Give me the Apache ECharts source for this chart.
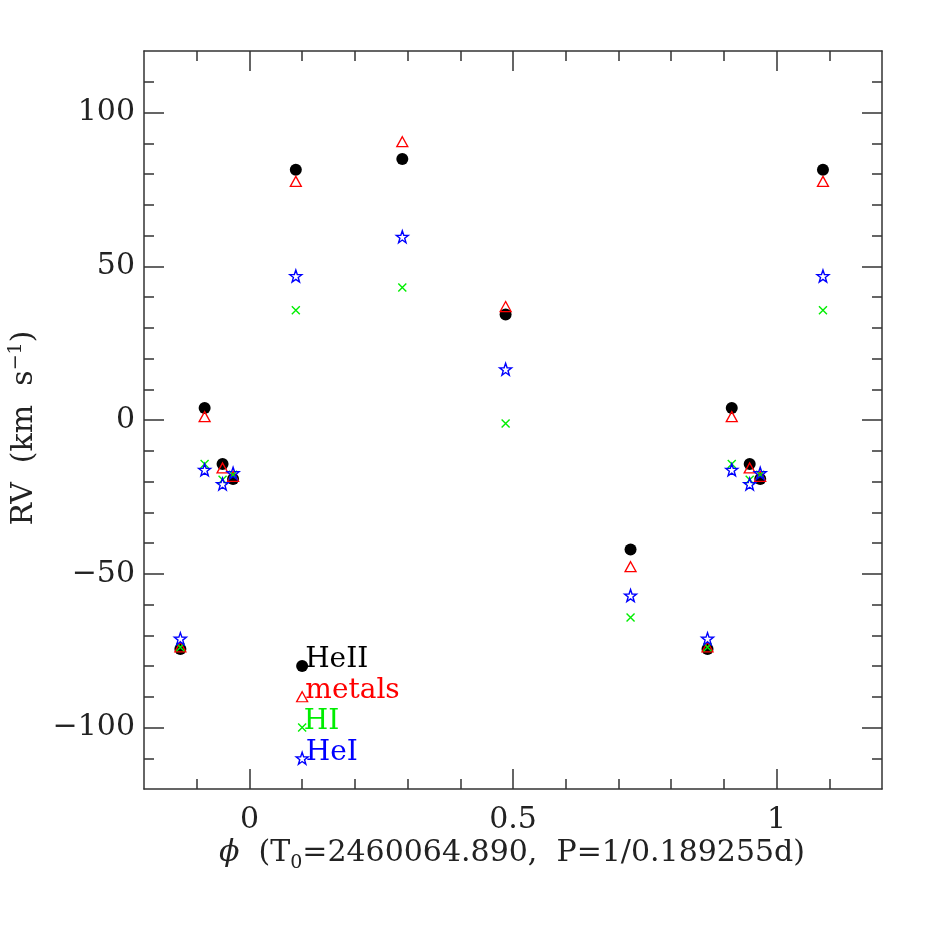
<!DOCTYPE html>
<html><head><meta charset="utf-8">
<script src="https://cdn.jsdelivr.net/npm/echarts@6/dist/echarts.min.js"></script>
<style>html,body{margin:0;padding:0;background:#fff}#c{width:932px;height:932px}</style>
</head><body><div id="c"></div>
<script>
// Orbital phases of the spectra
const phases = [0.869, 0.915, 0.949, 0.969, 0.088, 0.290, 0.486, 0.723];
// Radial velocities (km/s)
const rvHeII   = [-74.5,  3.9, -14.3, -19.2, 81.4, 84.9, 34.3, -42.1];
const rvMetals = [-73.8,  1.1, -15.6, -18.3, 77.6, 90.5, 36.9, -47.7];
const rvHI     = [-73.9, -14.3, -19.4, -17.8, 35.7, 43.1, -1.1, -64.2];
const rvHeI    = [-71.1, -16.2, -20.8, -17.3, 46.8, 59.6, 16.5, -57.1];
// Legend entries
const legendNames = ['HeII', 'metals', 'HI', 'HeI'];
const legendX = 0.1;
const legendY = [-80, -90, -100, -110];
// Axis ticks
const xMajor = [0, 0.5, 1];
const xMinor = [-0.1, 0.1, 0.2, 0.3, 0.4, 0.6, 0.7, 0.8, 0.9, 1.1];
const yMajor = [-100, -50, 0, 50, 100];
const yMinor = [-110, -90, -80, -70, -60, -40, -30, -20, -10, 10, 20, 30, 40, 60, 70, 80, 90, 110];
const xRange = [-0.2, 1.2];
const yRange = [-120, 120];

const FONT = 'DejaVu Serif';
const axisCol = '#333';

function fold(vals) {
  const out = [];
  phases.forEach((p, i) => {
    out.push([p, vals[i]]);
    if (p - 1 >= xRange[0]) out.push([p - 1, vals[i]]);
    if (p + 1 <= xRange[1]) out.push([p + 1, vals[i]]);
  });
  return out;
}

const starPath = 'path://M100 0 L123.5 67.6 L195.1 69.1 L138 112.4 L158.8 180.9 L100 140 L41.2 180.9 L62 112.4 L4.9 69.1 L76.5 67.6 Z';
const crossPath = 'path://M0 0 L10 10 M10 0 L0 10';

const styles = [
  { symbol: 'circle', size: 12, item: { color: '#000', opacity: 1 } },
  { symbol: 'triangle', size: [11, 10], item: { color: 'transparent', borderColor: '#ff0000', borderWidth: 1.3, opacity: 1 } },
  { symbol: crossPath, size: 8, item: { color: 'transparent', borderColor: '#00ee00', borderWidth: 1.4, opacity: 1 } },
  { symbol: starPath, size: 12, item: { color: 'transparent', borderColor: '#0000ff', borderWidth: 1.4, opacity: 1 } }
];
const textColors = ['#000', '#ff0000', '#00ee00', '#0000ff'];
const allVals = [rvHeII, rvMetals, rvHI, rvHeI];

function mkX(pos, ticks, len, showLabel, showLine) {
  return {
    type: 'value', position: pos, min: xRange[0], max: xRange[1],
    axisLine: { show: showLine, onZero: false, lineStyle: { color: axisCol, width: 1.5 } },
    axisTick: { show: true, inside: true, length: len, customValues: ticks, lineStyle: { color: axisCol, width: 1.5 } },
    axisLabel: showLabel ? { show: true, customValues: ticks, margin: 16, color: '#222', fontFamily: FONT, fontSize: 30,
      formatter: v => String(v) } : { show: false },
    splitLine: { show: false }
  };
}
function mkY(pos, ticks, len, showLabel, showLine) {
  return {
    type: 'value', position: pos, min: yRange[0], max: yRange[1],
    axisLine: { show: showLine, onZero: false, lineStyle: { color: axisCol, width: 1.5 } },
    axisTick: { show: true, inside: true, length: len, customValues: ticks, lineStyle: { color: axisCol, width: 1.5 } },
    axisLabel: showLabel ? { show: true, customValues: ticks, margin: 9, color: '#222', fontFamily: FONT, fontSize: 30,
      formatter: v => (v < 0 ? '\u2212' + Math.abs(v) : String(v)) } : { show: false },
    splitLine: { show: false }
  };
}

const series = [];
allVals.forEach((vals, k) => {
  series.push({
    type: 'scatter', name: legendNames[k], data: fold(vals),
    symbol: styles[k].symbol, symbolSize: styles[k].size, itemStyle: styles[k].item,
    xAxisIndex: 0, yAxisIndex: 0, z: 10 + k, animation: false
  });
});
legendNames.forEach((n, k) => {
  series.push({
    type: 'scatter', name: n + '_legend', data: [[legendX, legendY[k]]],
    symbol: styles[k].symbol, symbolSize: styles[k].size, itemStyle: styles[k].item,
    xAxisIndex: 0, yAxisIndex: 0, z: 20, animation: false,
    label: { show: true, position: 'right', distance: -3, offset: [0, -6], formatter: n,
      color: textColors[k], fontFamily: FONT, fontSize: 28 }
  });
});

const chart = echarts.init(document.getElementById('c'), null, { renderer: 'canvas' });
chart.setOption({
  animation: false,
  backgroundColor: '#fff',
  grid: { left: 144, top: 51, width: 738, height: 738, containLabel: false },
  xAxis: [
    mkX('bottom', xMajor, 20, true, true),
    mkX('bottom', xMinor, 10, false, false),
    mkX('top', xMajor, 20, false, true),
    mkX('top', xMinor, 10, false, false)
  ],
  yAxis: [
    mkY('left', yMajor, 20, true, true),
    mkY('left', yMinor, 10, false, false),
    mkY('right', yMajor, 20, false, true),
    mkY('right', yMinor, 10, false, false)
  ],
  series: series,
  graphic: [
    {
      type: 'text', x: 512, y: 853,
      style: {
        text: '{i|\u03d5}  (T{sub|0}=2460064.890,  P=1/0.189255d)',
        fill: '#222', font: '30px "DejaVu Serif"', align: 'center', verticalAlign: 'middle',
        rich: {
          i: { fontStyle: 'italic', fontFamily: FONT, fontSize: 30, fill: '#222' },
          sub: { fontSize: 19, fontFamily: FONT, verticalAlign: 'bottom', padding: [20, 0, 0, 0], fill: '#222' }
        }
      }
    },
    {
      type: 'text', x: 24, y: 428, rotation: Math.PI / 2,
      style: {
        text: 'RV  (km  s{sup|\u22121})',
        fill: '#222', font: '30px "DejaVu Serif"', align: 'center', verticalAlign: 'middle',
        rich: {
          sup: { fontSize: 19, fontFamily: FONT, verticalAlign: 'top', padding: [0, 0, 15, 0], fill: '#222' }
        }
      }
    }
  ]
});
</script></body></html>
